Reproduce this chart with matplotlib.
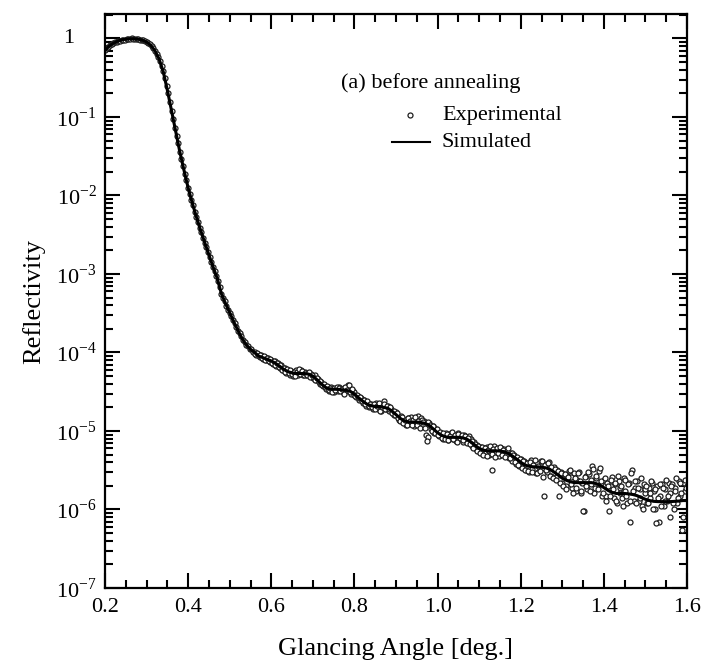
import numpy as np
import matplotlib
matplotlib.use("Agg")
import matplotlib.pyplot as plt
from matplotlib.ticker import FuncFormatter, FixedLocator, MultipleLocator, NullFormatter
from matplotlib.lines import Line2D
from matplotlib.transforms import blended_transform_factory

plt.rcParams['font.family'] = ['Liberation Serif', 'DejaVu Serif']
plt.rcParams['mathtext.fontset'] = 'custom'
plt.rcParams['mathtext.rm'] = 'Liberation Serif'

# ---------------- data ----------------
title_text = "(a) before annealing"
series_labels = ["Experimental", "Simulated"]
x_label = "Glancing Angle [deg.]"
y_label = "Reflectivity"
x_ticks = [0.2, 0.4, 0.6, 0.8, 1.0, 1.2, 1.4, 1.6]
x_tick_labels = ["0.2", "0.4", "0.6", "0.8", "1.0", "1.2", "1.4", "1.6"]
y_decades = [1e-7, 1e-6, 1e-5, 1e-4, 1e-3, 1e-2, 1e-1, 1.0]

# simulated curve, angle step 0.01 deg from 0.20 to 1.60
sim_angle = np.round(np.arange(0.20, 1.6001, 0.01), 2)
sim_refl = [
    0.70, 0.80, 0.87, 0.92, 0.96, 0.98, 0.99, 0.99, 0.98, 0.95,
    0.90, 0.82, 0.70, 0.55, 0.38, 0.22, 0.12, 0.065, 0.036, 0.021,
    0.0125, 0.0080, 0.0053, 0.0036, 0.0025, 0.00175, 0.00123, 0.00088, 0.00056, 0.00042,
    3.2e-4, 2.45e-4, 1.9e-4, 1.5e-4, 1.25e-4, 1.1e-4, 1.0e-4, 9.0e-5, 8.6e-5, 8.2e-5,
    7.8e-5, 7.3e-5, 6.7e-5, 6.1e-5, 5.7e-5, 5.5e-5, 5.4e-5, 5.4e-5, 5.4e-5, 5.3e-5,
    5.0e-5, 4.5e-5, 4.0e-5, 3.6e-5, 3.45e-5, 3.4e-5, 3.4e-5, 3.35e-5, 3.3e-5, 3.2e-5,
    2.95e-5, 2.65e-5, 2.4e-5, 2.2e-5, 2.1e-5, 2.05e-5, 2.05e-5, 2.0e-5, 1.95e-5, 1.8e-5,
    1.62e-5, 1.45e-5, 1.35e-5, 1.3e-5, 1.3e-5, 1.3e-5, 1.28e-5, 1.25e-5, 1.18e-5, 1.06e-5,
    9.5e-6, 8.8e-6, 8.4e-6, 8.3e-6, 8.3e-6, 8.3e-6, 8.2e-6, 7.9e-6, 7.3e-6, 6.6e-6,
    6.0e-6, 5.7e-6, 5.6e-6, 5.6e-6, 5.6e-6, 5.55e-6, 5.45e-6, 5.2e-6, 4.8e-6, 4.4e-6,
    4.0e-6, 3.7e-6, 3.55e-6, 3.5e-6, 3.5e-6, 3.45e-6, 3.4e-6, 3.25e-6, 3.0e-6, 2.75e-6,
    2.5e-6, 2.35e-6, 2.25e-6, 2.2e-6, 2.2e-6, 2.2e-6, 2.2e-6, 2.2e-6, 2.15e-6, 2.05e-6,
    1.9e-6, 1.75e-6, 1.65e-6, 1.6e-6, 1.6e-6, 1.6e-6, 1.58e-6, 1.55e-6, 1.5e-6, 1.42e-6,
    1.35e-6, 1.3e-6, 1.27e-6, 1.26e-6, 1.26e-6, 1.26e-6, 1.26e-6, 1.27e-6, 1.28e-6, 1.3e-6,
    1.3e-6,
]

# experimental points (first pass), angle step 0.004 deg from 0.200 to 1.600
exp_angle_a = np.round(np.arange(0.200, 1.6001, 0.004), 3)
exp_refl_a = [
    0.71, 0.75, 0.79, 0.82, 0.85, 0.88, 0.90, 0.91, 0.93, 0.94,
    0.96, 0.97, 0.97, 0.98, 0.99, 0.99, 1.00, 0.99, 0.99, 0.99,
    0.98, 0.97, 0.96, 0.95, 0.93, 0.90, 0.87, 0.84, 0.80, 0.75,
    0.70, 0.64, 0.58, 0.51, 0.45, 0.38, 0.31, 0.25, 0.20, 0.155,
    0.12, 0.094, 0.073, 0.058, 0.046, 0.036, 0.029, 0.0235, 0.019, 0.0156,
    0.0125, 0.0105, 0.0088, 0.0075, 0.0062, 0.0053, 0.0046, 0.0039, 0.0034, 0.0029,
    0.0025, 0.0022, 0.0019, 0.00165, 0.00143, 0.00124, 0.00108, 0.00094, 0.00081, 0.00069,
    5.6e-4, 5.0e-4, 4.5e-4, 3.9e-4, 3.5e-4, 3.2e-4, 2.9e-4, 2.6e-4, 2.35e-4, 2.1e-4,
    1.9e-4, 1.75e-4, 1.6e-4, 1.44e-4, 1.36e-4, 1.24e-4, 1.2e-4, 1.1e-4, 1.1e-4, 1.02e-4,
    1.02e-4, 9.4e-5, 9.6e-5, 8.7e-5, 9.2e-5, 8.3e-5, 8.8e-5, 8.0e-5, 8.5e-5, 7.6e-5,
    8.1e-5, 7.2e-5, 7.7e-5, 6.8e-5, 7.3e-5, 6.4e-5, 6.9e-5, 5.9e-5, 6.3e-5, 5.5e-5,
    5.9e-5, 5.2e-5, 5.8e-5, 5.0e-5, 5.7e-5, 5.9e-5, 5.1e-5, 5.6e-5, 6.0e-5, 5.2e-5,
    5.6e-5, 5.1e-5, 5.5e-5, 5.0e-5, 5.3e-5, 4.7e-5, 5.1e-5, 4.4e-5, 4.6e-5, 4.0e-5,
    4.2e-5, 3.7e-5, 3.9e-5, 3.4e-5, 3.6e-5, 3.2e-5, 3.6e-5, 3.3e-5, 3.1e-5, 3.5e-5,
    3.2e-5, 3.6e-5, 3.3e-5, 3.1e-5, 3.5e-5, 3.2e-5, 3.8e-5, 3.3e-5, 3.0e-5, 3.2e-5,
    3.1e-5, 2.7e-5, 2.8e-5, 2.5e-5, 2.6e-5, 2.3e-5, 2.5e-5, 2.1e-5, 2.3e-5, 2.0e-5,
    2.2e-5, 1.9e-5, 2.1e-5, 2.3e-5, 1.9e-5, 2.2e-5, 1.8e-5, 2.1e-5, 2.4e-5, 1.9e-5,
    2.1e-5, 1.8e-5, 1.9e-5, 1.7e-5, 1.6e-5, 1.75e-5, 1.5e-5, 1.4e-5, 1.55e-5, 1.3e-5,
    1.4e-5, 1.2e-5, 1.45e-5, 1.25e-5, 1.5e-5, 1.35e-5, 1.15e-5, 1.4e-5, 1.55e-5, 1.25e-5,
    1.45e-5, 1.2e-5, 1.35e-5, 9.0e-6, 8.5e-6, 1.25e-5, 1.05e-5, 1.15e-5, 9.5e-6, 1.05e-5,
    9.8e-6, 8.6e-6, 9.2e-6, 7.9e-6, 8.8e-6, 9.5e-6, 7.6e-6, 8.5e-6, 9.3e-6, 7.8e-6,
    8.9e-6, 7.5e-6, 9.4e-6, 8.0e-6, 8.7e-6, 7.2e-6, 9.0e-6, 8.4e-6, 7.4e-6, 8.6e-6,
    7.8e-6, 6.5e-6, 7.2e-6, 5.9e-6, 6.6e-6, 5.5e-6, 6.3e-6, 5.2e-6, 6.0e-6, 5.4e-6,
    6.2e-6, 5.0e-6, 5.8e-6, 3.2e-6, 6.4e-6, 5.3e-6, 5.9e-6, 4.8e-6, 6.1e-6, 5.5e-6,
    5.9e-6, 4.9e-6, 5.6e-6, 4.5e-6, 5.3e-6, 4.2e-6, 4.9e-6, 3.8e-6, 4.5e-6, 3.6e-6,
    4.4e-6, 3.5e-6, 4.1e-6, 3.2e-6, 3.9e-6, 3.0e-6, 4.3e-6, 3.3e-6, 3.8e-6, 2.9e-6,
    3.9e-6, 3.1e-6, 4.2e-6, 3.4e-6, 1.5e-6, 3.8e-6, 3.0e-6, 4.0e-6, 2.7e-6, 3.4e-6,
    3.5e-6, 2.6e-6, 3.2e-6, 1.5e-6, 3.0e-6, 2.2e-6, 2.8e-6, 2.0e-6, 2.7e-6, 3.1e-6,
    2.6e-6, 1.9e-6, 2.9e-6, 1.7e-6, 2.4e-6, 3.0e-6, 1.6e-6, 2.2e-6, 9.5e-7, 2.7e-6,
    1.8e-6, 2.8e-6, 2.1e-6, 3.6e-6, 1.6e-6, 2.5e-6, 1.9e-6, 3.1e-6, 2.2e-6, 1.5e-6,
    2.4e-6, 1.5e-6, 2.2e-6, 9.5e-7, 2.0e-6, 2.6e-6, 1.4e-6, 2.1e-6, 1.2e-6, 2.3e-6,
    1.9e-6, 1.4e-6, 2.5e-6, 1.7e-6, 1.2e-6, 2.2e-6, 7.0e-7, 3.2e-6, 1.3e-6, 1.9e-6,
    2.3e-6, 1.3e-6, 1.8e-6, 1.1e-6, 2.1e-6, 1.6e-6, 1.2e-6, 1.9e-6, 1.4e-6, 2.2e-6,
    1.7e-6, 1.0e-6, 2.0e-6, 7.0e-7, 1.5e-6, 2.1e-6, 1.1e-6, 1.8e-6, 1.3e-6, 2.2e-6,
    1.6e-6, 2.1e-6, 1.0e-6, 1.9e-6, 1.2e-6, 2.3e-6, 1.5e-6, 5.5e-7, 2.2e-6, 1.7e-6,
    2.0e-6,
]

# experimental points (interleaved), angle step 0.004 deg from 0.562 to 1.598
exp_angle_b = np.round(np.arange(0.562, 1.5981, 0.004), 3)
exp_refl_b = [
    9.6e-5, 9.9e-5, 8.9e-5, 9.3e-5, 8.5e-5, 8.9e-5, 8.1e-5, 8.6e-5, 7.8e-5, 8.2e-5,
    7.4e-5, 7.9e-5, 7.0e-5, 7.4e-5, 6.5e-5, 7.0e-5, 6.0e-5, 6.4e-5, 5.7e-5, 6.1e-5,
    5.4e-5, 6.0e-5, 5.3e-5, 5.7e-5, 5.0e-5, 5.6e-5, 6.1e-5, 5.3e-5, 5.8e-5, 5.1e-5,
    5.5e-5, 5.2e-5, 5.6e-5, 4.9e-5, 5.2e-5, 4.8e-5, 4.5e-5, 4.8e-5, 4.2e-5, 4.3e-5,
    3.9e-5, 4.0e-5, 3.6e-5, 3.7e-5, 3.3e-5, 3.5e-5, 3.1e-5, 3.5e-5, 3.3e-5, 3.6e-5,
    3.5e-5, 3.2e-5, 3.4e-5, 3.0e-5, 3.6e-5, 3.3e-5, 3.9e-5, 3.1e-5, 3.4e-5, 2.9e-5,
    2.8e-5, 2.9e-5, 2.6e-5, 2.7e-5, 2.4e-5, 2.5e-5, 2.2e-5, 2.4e-5, 2.1e-5, 2.2e-5,
    2.0e-5, 2.2e-5, 1.9e-5, 2.1e-5, 2.3e-5, 1.8e-5, 2.0e-5, 2.2e-5, 1.9e-5, 2.1e-5,
    1.9e-5, 2.0e-5, 1.7e-5, 1.8e-5, 1.6e-5,
    1.7e-5, 1.45e-5, 1.35e-5, 1.5e-5, 1.25e-5, 1.4e-5, 1.2e-5, 1.45e-5, 1.35e-5, 1.2e-5,
    1.4e-5, 1.5e-5, 1.2e-5, 1.35e-5, 1.1e-5, 1.4e-5, 1.3e-5, 1.1e-5, 7.5e-6, 1.3e-5,
    1.2e-5, 1.0e-5, 1.15e-5, 9.5e-6, 1.05e-5, 8.8e-6, 9.6e-6, 8.2e-6, 9.4e-6, 8.0e-6,
    9.1e-6, 7.7e-6, 8.6e-6, 9.6e-6, 7.9e-6, 8.8e-6, 7.3e-6, 9.2e-6, 8.1e-6, 9.0e-6,
    7.6e-6, 8.7e-6, 7.0e-6, 8.1e-6, 6.8e-6, 7.5e-6, 6.1e-6, 6.9e-6, 5.6e-6, 6.4e-6,
    5.3e-6, 6.2e-6, 5.0e-6, 6.0e-6, 4.8e-6, 5.7e-6, 6.5e-6, 5.1e-6, 5.9e-6, 4.7e-6,
    6.0e-6, 5.2e-6, 6.3e-6, 4.9e-6, 5.8e-6, 4.6e-6, 5.5e-6, 6.0e-6, 4.5e-6, 5.3e-6,
    5.0e-6, 4.0e-6, 4.7e-6, 3.7e-6, 4.4e-6, 3.4e-6, 4.1e-6, 3.2e-6, 3.9e-6, 3.1e-6,
    4.0e-6, 3.0e-6, 3.7e-6, 4.3e-6, 2.9e-6, 3.6e-6, 3.1e-6, 4.1e-6, 2.6e-6, 3.7e-6,
    3.2e-6, 3.9e-6, 2.7e-6, 3.5e-6, 2.5e-6, 3.3e-6, 2.4e-6, 3.1e-6, 2.2e-6, 2.9e-6,
    2.0e-6, 2.8e-6, 1.8e-6, 2.6e-6, 3.2e-6, 2.1e-6, 1.6e-6, 2.5e-6, 1.9e-6, 2.9e-6,
    2.3e-6, 1.7e-6, 9.5e-7, 2.6e-6, 2.0e-6, 3.0e-6, 1.7e-6, 2.4e-6, 3.3e-6, 1.9e-6,
    2.7e-6, 1.8e-6, 3.4e-6, 2.3e-6, 1.6e-6, 2.5e-6, 1.3e-6, 2.0e-6, 1.5e-6, 2.4e-6,
    1.8e-6, 2.2e-6, 1.3e-6, 2.7e-6, 1.6e-6, 2.0e-6, 1.1e-6, 2.4e-6, 1.5e-6, 2.1e-6,
    1.3e-6, 2.9e-6, 1.7e-6, 2.3e-6, 1.2e-6, 1.9e-6, 1.4e-6, 2.5e-6, 1.0e-6, 1.8e-6,
    2.0e-6, 1.2e-6, 1.6e-6, 2.3e-6, 1.0e-6, 1.8e-6, 6.8e-7, 1.4e-6, 2.1e-6, 1.1e-6,
    1.9e-6, 1.3e-6, 2.4e-6, 1.5e-6, 8.0e-7, 2.0e-6, 1.2e-6, 1.7e-6, 2.5e-6, 1.4e-6,
    2.2e-6, 1.6e-6, 8.0e-7, 2.4e-6, 1.9e-6,
]

exp_angle = np.concatenate([exp_angle_a, exp_angle_b])
exp_refl = np.concatenate([exp_refl_a, exp_refl_b])

# ---------------- figure ----------------
fig = plt.figure(figsize=(7.09, 6.64), dpi=100)
ax = fig.add_axes([105 / 709, 76 / 664, 582 / 709, 574 / 664])

marker_kw = dict(linestyle='none', marker='o', markersize=3.6,
                 markerfacecolor='white', markeredgecolor='#1e1e1e',
                 markeredgewidth=0.9)
ax.plot(exp_angle, exp_refl, zorder=2, **marker_kw)
ax.plot(sim_angle, sim_refl, color='black', linewidth=2.2, zorder=3)

ax.set_yscale('log')
ax.set_xlim(0.2, 1.6)
ax.set_ylim(1e-7, 2.05)

ax.set_xticks(x_ticks)
ax.set_xticklabels(x_tick_labels)
ax.xaxis.set_minor_locator(MultipleLocator(0.05))

minor_y = [m * d for d in y_decades[:-1] for m in range(2, 10)] + [2.0]
ax.yaxis.set_major_locator(FixedLocator(y_decades))
ax.yaxis.set_minor_locator(FixedLocator(minor_y))
ax.yaxis.set_minor_formatter(NullFormatter())


def yfmt(v, pos):
    e = int(round(np.log10(v)))
    if e == 0:
        return ""   # drawn separately below, aligned with the mantissas
    return r"10$^{\mathregular{%d}}$" % e


ax.yaxis.set_major_formatter(FuncFormatter(yfmt))

ax.tick_params(which='both', direction='in', top=True, right=True,
               width=1.5, labelsize=16)
ax.tick_params(which='major', length=11)
ax.tick_params(which='minor', length=6)
ax.tick_params(axis='x', which='major', pad=7)
ax.tick_params(axis='y', which='major', pad=6)
for s in ax.spines.values():
    s.set_linewidth(1.6)

ax.set_xlabel(x_label, fontsize=19, labelpad=15)
ax.set_ylabel(y_label, fontsize=19, labelpad=8)

# the "1" label of the top decade
trans_y = blended_transform_factory(ax.transAxes, ax.transData)
ax.text(-0.063, y_decades[-1], "1", transform=trans_y, fontsize=16,
        ha='center', va='center', clip_on=False)

# legend-like annotation
ax.text(0.405, 0.880, title_text, transform=ax.transAxes, fontsize=16,
        ha='left', va='center')
ax.add_line(Line2D([0.524], [0.824], transform=ax.transAxes, **marker_kw))
ax.text(0.579, 0.824, series_labels[0], transform=ax.transAxes, fontsize=16,
        ha='left', va='center')
ax.add_line(Line2D([0.493, 0.558], [0.777, 0.777], transform=ax.transAxes,
                   color='black', linewidth=1.5))
ax.text(0.579, 0.777, series_labels[1], transform=ax.transAxes, fontsize=16,
        ha='left', va='center')

fig.savefig("out.png", dpi=100)
